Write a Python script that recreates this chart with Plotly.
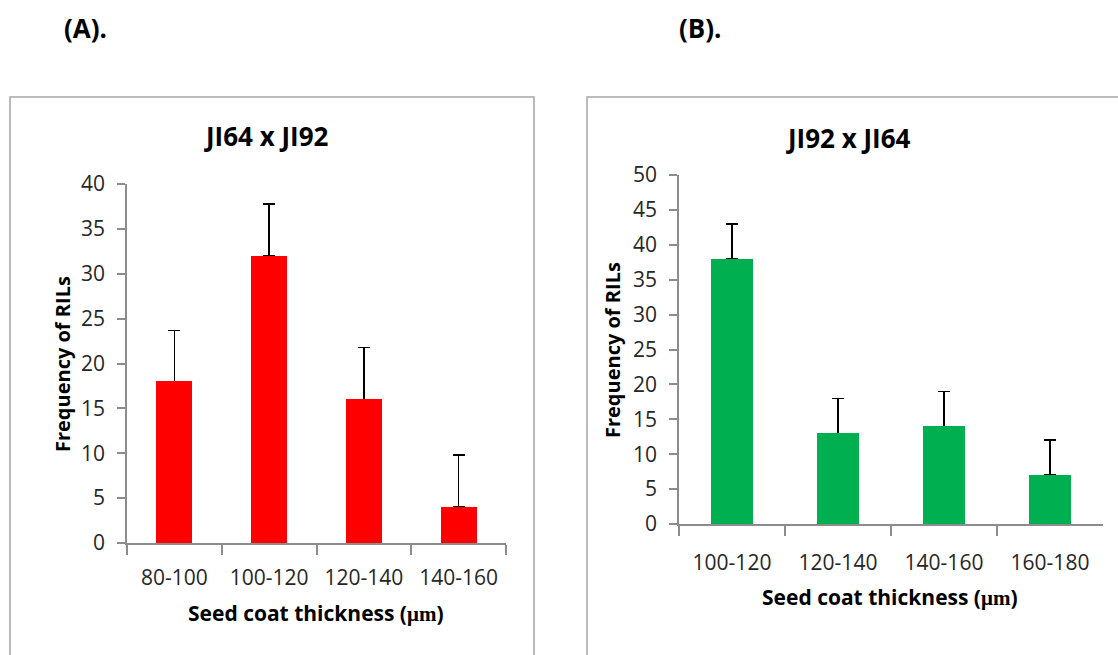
import plotly.graph_objects as go

# Panel A: JI64 x JI92
cats_a = ["80-100", "100-120", "120-140", "140-160"]
freq_a = [18, 32, 16, 4]
err_a = [5.7, 5.8, 5.8, 5.8]

# Panel B: JI92 x JI64
cats_b = ["100-120", "120-140", "140-160", "160-180"]
freq_b = [38, 13, 14, 7]
err_b = [5, 5, 5, 5]

W, H = 1118, 655
FONT = "Open Sans"
TICK_COLOR = "#262626"
AXIS_COLOR = "#8c8c8c"
RED = "#FF0000"
GREEN = "#00B050"

fig = go.Figure()

def add_panel(cats, freq, err, color, width, xa, ya):
    # bars carrying the upward error whiskers
    fig.add_trace(go.Bar(
        x=cats, y=freq, width=width, marker=dict(color=color, line=dict(width=0)),
        error_y=dict(type="data", symmetric=False, array=err, arrayminus=[0] * len(err),
                     color="black", thickness=1.5, width=6),
        xaxis=xa, yaxis=ya, showlegend=False, hoverinfo="skip",
    ))
    # same bars drawn again on top so only the upper whisker shows
    fig.add_trace(go.Bar(
        x=cats, y=freq, width=width, marker=dict(color=color, line=dict(width=0)),
        xaxis=xa, yaxis=ya, showlegend=False,
    ))

add_panel(cats_a, freq_a, err_a, RED, 0.38, "x", "y")
add_panel(cats_b, freq_b, err_b, GREEN, 0.40, "x2", "y2")

def xaxis_cfg(domain, anchor, standoff):
    return dict(domain=domain, anchor=anchor, type="category", range=[-0.5, 3.5],
                showline=True, linecolor=AXIS_COLOR, linewidth=1.5,
                ticks="outside", tickson="boundaries", ticklen=10, tickcolor=AXIS_COLOR,
                tickwidth=1.5, showgrid=False, zeroline=False, automargin=False,
                ticklabelstandoff=standoff,
                tickfont=dict(family=FONT, size=21, color=TICK_COLOR))

def yaxis_cfg(domain, anchor, top):
    return dict(domain=domain, anchor=anchor, range=[0, top], dtick=5, tick0=0,
                showline=True, linecolor=AXIS_COLOR, linewidth=1.5,
                ticks="outside", ticklen=8, tickcolor=AXIS_COLOR, tickwidth=1.5,
                showgrid=False, zeroline=False, automargin=False,
                ticklabelstandoff=8,
                tickfont=dict(family=FONT, size=21, color=TICK_COLOR))

fig.update_layout(
    width=W, height=H, autosize=False,
    margin=dict(l=0, r=0, t=0, b=0, pad=0),
    paper_bgcolor="white", plot_bgcolor="white",
    barmode="overlay", bargap=0,
    xaxis=xaxis_cfg([127 / W, 506 / W], "y", 15),
    yaxis=yaxis_cfg([1 - 543 / H, 1 - 184 / H], "x", 40),
    xaxis2=xaxis_cfg([679 / W, 1103 / W], "y2", 19),
    yaxis2=yaxis_cfg([1 - 524 / H, 1 - 175 / H], "x2", 50),
)

# Panel frames
box_line = dict(color="#a6a6a6", width=1.5)
fig.add_shape(type="path", xref="paper", yref="paper",
              path=f"M {10/W} -0.1 L {10/W} {1-97/H} L {534/W} {1-97/H} L {534/W} -0.1",
              line=box_line)
fig.add_shape(type="path", xref="paper", yref="paper",
              path=f"M {587/W} -0.1 L {587/W} {1-97/H} L 1.1 {1-97/H}",
              line=box_line)

def text(x, y, s, size, bold=True, angle=0):
    fig.add_annotation(x=x / W, y=1 - y / H, xref="paper", yref="paper",
                       text=f"<b>{s}</b>" if bold else s, showarrow=False,
                       textangle=angle, xanchor="center", yanchor="middle",
                       font=dict(family=FONT, size=size, color="black"))

mu = "<span style=\"font-family:'Liberation Serif'\">μm</span>"

text(85, 28, "(A).", 26)
text(700, 28, "(B).", 26)
text(266, 136, "JI64 x JI92", 26)
text(848, 138, "JI92 x JI64", 26)
text(62, 364, "Frequency of RILs", 20, angle=-90)
text(612, 350, "Frequency of RILs", 20, angle=-90)
text(316, 613, f"Seed coat thickness ({mu})", 21)
text(890, 597, f"Seed coat thickness ({mu})", 21)

fig.write_html("out.html")
